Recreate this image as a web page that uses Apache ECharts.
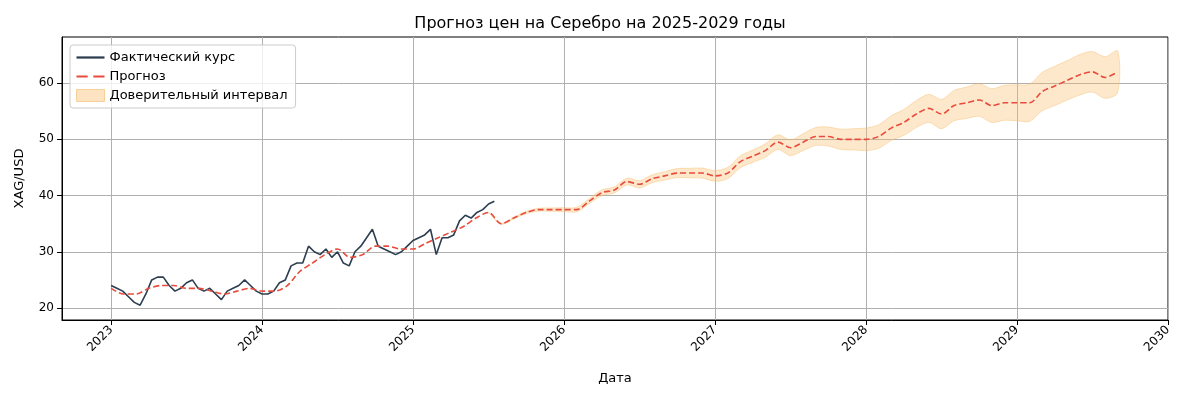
<!DOCTYPE html>
<html><head><meta charset="utf-8">
<script src="https://cdn.jsdelivr.net/npm/echarts@6/dist/echarts.min.js"></script>
<style>html,body{margin:0;background:#fff}#c{width:1200px;height:400px}</style>
</head><body><div id="c"></div>
<script>
// Actual price, biweekly from Jan 2023
const actualStart = 2023.0, actualStep = 1/26;
const actual = [24,23.5,23,22,21,20.5,22.5,25,25.5,25.5,24,23,23.5,24.5,25,23.5,23,23.5,22.5,21.5,23,23.5,24,25,24,
  23,22.5,22.5,23,24.5,25,27.5,28,28,31,30,29.5,30.5,29,30,28,27.5,30,31,32.5,34,31,30.5,30,29.5,
  30,31,32,32.5,33,34,29.5,32.5,32.5,33,35.5,36.5,36,37,37.5,38.5,39];
// Forecast, monthly from Jan 2023
const fcStart = 2023.0, fcStep = 1/12;
const forecast = [23.5,22.5,22.5,23.5,24,24,23.5,23.5,23,22.5,23,23.5,
  23,23,24,26.5,28,29.5,30.5,29,29.5,31,31,30.5,
  30.5,31.5,32.5,33.5,34.5,36,37,35,36,37,37.5,37.5,
  37.5,37.5,39,40.5,41,42.5,42,43,43.5,44,44,44,
  43.5,44,46,47,48,49.5,48.5,49.5,50.5,50.5,50,50,
  50,50.5,52,53,54.5,55.5,54.5,56,56.5,57,56,56.5,
  56.5,56.5,58.5,59.5,60.5,61.5,62,61,62];
// Confidence half-width per forecast month (0 before Aug 2025)
const halfWidth = [].concat(new Array(31).fill(0),
  [0.1,0.15,0.2,0.25,0.3,0.35,0.4,0.45,0.5,0.55,0.6,0.65,0.7,0.75,0.8,0.85,0.9,0.95,1.0,1.05,
   1.1,1.2,1.3,1.4,1.5,1.6,1.7,1.8,1.9,2.0,2.1,2.2,2.3,2.4,2.5,2.6,2.7,2.8,2.9,3.0,
   3.1,3.2,3.3,3.4,3.5,3.5,3.6,3.6,3.7,3.7]);
const yearTicks = [2023,2024,2025,2026,2027,2028,2029,2030];
const yTicks = [20,30,40,50,60];

const actualData = actual.map((v,i)=>[actualStart+i*actualStep, v]);
const fcData = forecast.map((v,i)=>[fcStart+i*fcStep, v]);
const bandData = forecast.map((v,i)=>[fcStart+i*fcStep, v-halfWidth[i], v+halfWidth[i]]).slice(30);

const ch = echarts.init(document.getElementById('c'));
const F = 'DejaVu Sans';
ch.setOption({
  animation:false,
  textStyle:{fontFamily:F},
  title:{text:'Прогноз цен на Серебро на 2025-2029 годы',left:'center',top:11,textStyle:{fontSize:16,fontWeight:'normal',color:'#000',fontFamily:F}},
  legend:{left:70,top:45,orient:'vertical',itemGap:6,itemWidth:28,itemHeight:12,padding:[6,8,6,6],
    borderColor:'#ccc',borderWidth:1,borderRadius:3,backgroundColor:'rgba(255,255,255,0.8)',
    textStyle:{fontSize:13,color:'#000',fontFamily:F},
    data:[{name:'Фактический курс',icon:'path://M0,0 L1,0 L1,0.08 L0,0.08 Z',itemStyle:{color:'#2c3e50'}},
          {name:'Прогноз',icon:'path://M0,0 L0.4,0 L0.4,0.08 L0,0.08 Z M0.6,0 L1,0 L1,0.08 L0.6,0.08 Z',itemStyle:{color:'#e74c3c'}},
          {name:'Доверительный интервал',icon:'rect',itemStyle:{color:'#fde3c2',borderColor:'#f7cf98',borderWidth:1}}]},
  grid:{left:62,right:32,top:37,bottom:80,show:true,borderColor:'#000',borderWidth:1},
  xAxis:{type:'value',min:2022.675,max:2030,
    name:'Дата',nameLocation:'middle',nameGap:52,nameTextStyle:{fontSize:13,color:'#000'},
    axisLine:{onZero:false,lineStyle:{color:'#000'}},
    axisTick:{customValues:yearTicks,length:5,lineStyle:{color:'#000'}},
    axisLabel:{customValues:yearTicks,rotate:45,fontSize:12,color:'#000',formatter:v=>String(v)},
    splitLine:{show:true,lineStyle:{color:'#b0b0b0',width:1}}},
  yAxis:{type:'value',min:17.87,max:68.2,
    name:'XAG/USD',nameLocation:'middle',nameGap:36,nameTextStyle:{fontSize:13,color:'#000'},
    axisLine:{show:true,lineStyle:{color:'#000'}},
    axisTick:{show:true,customValues:yTicks,length:5,lineStyle:{color:'#000'}},
    axisLabel:{customValues:yTicks,fontSize:12,color:'#000'},
    splitLine:{show:true,lineStyle:{color:'#b0b0b0',width:1}}},
  series:[
    {name:'Доверительный интервал',type:'custom',data:bandData,itemStyle:{color:'#fde3c2'},
      encode:{x:0,y:[1,2]},
      renderItem:function(params,api){
        if(params.dataIndex!==0) return;
        const top=[],bot=[];
        for(const d of bandData){top.push(api.coord([d[0],d[2]]));bot.push(api.coord([d[0],d[1]]));}
        return {type:'polygon',shape:{points:top.concat(bot.reverse()),smooth:0.3},
          style:{fill:'rgba(250,190,110,0.35)',stroke:'rgba(245,185,100,0.5)',lineWidth:0.8}};
      }},
    {name:'Фактический курс',type:'line',data:actualData,symbol:'none',
      lineStyle:{color:'#2c3e50',width:1.6},itemStyle:{color:'#2c3e50'}},
    {name:'Прогноз',type:'line',data:fcData,symbol:'none',smooth:0.3,
      lineStyle:{color:'#e74c3c',width:1.6,type:[6,3]},itemStyle:{color:'#e74c3c'}}
  ]
});
</script></body></html>
